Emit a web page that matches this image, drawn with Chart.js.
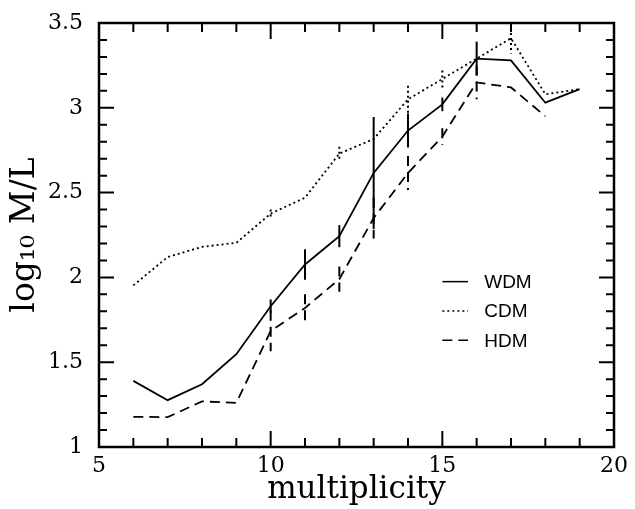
<!DOCTYPE html>
<html>
<head>
<meta charset="utf-8">
<script src="https://cdn.jsdelivr.net/npm/chart.js@4/dist/chart.umd.min.js"></script>
<style>
  html, body { margin: 0; padding: 0; background: #fff; }
  #wrap { width: 635px; height: 509px; }
</style>
</head>
<body>
<div id="wrap"><canvas id="ml_chart" width="635" height="509"></canvas></div>
<script>
// multiplicity values along x
const multiplicity = [6, 7, 8, 9, 10, 11, 12, 13, 14, 15, 16, 17, 18, 19];

// log10 M/L for each model
const wdm = [1.39, 1.276, 1.37, 1.547, 1.83, 2.076, 2.243, 2.616, 2.866, 3.02, 3.29, 3.28, 3.03, 3.11];
const cdm = [1.953, 2.12, 2.18, 2.204, 2.376, 2.47, 2.73, 2.816, 3.05, 3.17, 3.29, 3.41, 3.08, 3.11];
const hdm = [1.178, 1.176, 1.269, 1.26, 1.684, 1.82, 1.99, 2.35, 2.616, 2.83, 3.15, 3.12, 2.95, null];

// half-length of error bars (0 = none)
const wdmErr = [0, 0, 0, 0, 0.04, 0.09, 0.065, 0.33, 0.1, 0.04, 0.1, 0, 0, 0];
const cdmErr = [0, 0, 0, 0, 0.025, 0, 0.04, 0, 0.08, 0.05, 0, 0.09, 0, 0];
const hdmErr = [0, 0, 0, 0, 0.12, 0.08, 0.075, 0.12, 0.1, 0.05, 0.1, 0, 0, 0];

const xTicks = [5, 10, 15, 20];
const yTicks = [1, 1.5, 2, 2.5, 3, 3.5];

function pts(vals) {
    return multiplicity.map((m, i) => ({x: m, y: vals[i]})).filter(p => p.y !== null);
}

const isMajor = (v, step) => Math.abs(v / step - Math.round(v / step)) < 1e-6;

const frameAndTicks = {
    id: 'frameAndTicks',
    afterDraw(chart) {
        const {ctx, chartArea: {left, top, right, bottom}, scales: {x, y}} = chart;
        ctx.save();
        ctx.strokeStyle = '#000';
        ctx.lineWidth = 2;
        ctx.beginPath();
        for (let v = 6; v < 20; v++) {
            const px = x.getPixelForValue(v);
            const len = isMajor(v, 5) ? 16 : 9;
            ctx.moveTo(px, bottom); ctx.lineTo(px, bottom - len);
            ctx.moveTo(px, top); ctx.lineTo(px, top + len);
        }
        for (let k = 11; k < 35; k++) {
            const v = k / 10;
            const py = y.getPixelForValue(v);
            const len = isMajor(v, 0.5) ? 15 : 8;
            ctx.moveTo(left, py); ctx.lineTo(left + len, py);
            ctx.moveTo(right, py); ctx.lineTo(right - len, py);
        }
        ctx.stroke();
        ctx.lineWidth = 2.5;
        ctx.strokeRect(left, top, right - left, bottom - top);
        ctx.restore();
    }
};

const errorBars = {
    id: 'errorBars',
    afterDatasetsDraw(chart) {
        const {ctx, scales: {x, y}} = chart;
        ctx.save();
        chart.data.datasets.forEach(ds => {
            ctx.strokeStyle = '#000';
            ctx.lineWidth = 2;
            ctx.setLineDash(ds.borderDash || []);
            ds.err.forEach((e, i) => {
                const v = ds.vals[i];
                if (!e || v === null) return;
                const px = x.getPixelForValue(multiplicity[i]);
                ctx.beginPath();
                ctx.moveTo(px, y.getPixelForValue(v + e));
                ctx.lineTo(px, y.getPixelForValue(v - e));
                ctx.stroke();
            });
        });
        ctx.restore();
    }
};

const innerLegend = {
    id: 'innerLegend',
    afterDraw(chart) {
        const {ctx, scales: {x, y}} = chart;
        ctx.save();
        ctx.font = '19px "Liberation Sans", Arial, sans-serif';
        ctx.fillStyle = '#000';
        ctx.textBaseline = 'middle';
        const x0 = x.getPixelForValue(15.0), x1 = x.getPixelForValue(15.75), xt = x.getPixelForValue(16.22);
        chart.data.datasets.forEach((ds, i) => {
            const py = y.getPixelForValue(1.975 - i * 0.173);
            ctx.strokeStyle = '#000';
            ctx.lineWidth = 1.5;
            ctx.setLineDash(ds.borderDash || []);
            ctx.beginPath();
            ctx.moveTo(x0, py); ctx.lineTo(x1, py);
            ctx.stroke();
            ctx.fillText(ds.label, xt, py + 1);
        });
        ctx.restore();
    }
};

new Chart(document.getElementById('ml_chart'), {
    type: 'scatter',
    data: {
        datasets: [
            {label: 'WDM', data: pts(wdm), vals: wdm, err: wdmErr, showLine: true,
             borderColor: '#000', borderWidth: 1.8, pointRadius: 0, borderDash: []},
            {label: 'CDM', data: pts(cdm), vals: cdm, err: cdmErr, showLine: true,
             borderColor: '#000', borderWidth: 1.8, pointRadius: 0, borderDash: [2, 3]},
            {label: 'HDM', data: pts(hdm), vals: hdm, err: hdmErr, showLine: true,
             borderColor: '#000', borderWidth: 1.8, pointRadius: 0, borderDash: [10, 6]}
        ]
    },
    options: {
        responsive: false,
        animation: false,
        layout: {padding: {top: 23, right: 21, left: 0, bottom: 0}},
        plugins: {legend: {display: false}, tooltip: {enabled: false}},
        scales: {
            x: {
                type: 'linear', min: 5, max: 20,
                afterFit: s => { s.height = 62; s.paddingLeft = 0; s.paddingRight = 0; },
                grid: {display: false, drawTicks: false},
                border: {display: false},
                ticks: {
                    stepSize: 1, autoSkip: false, maxRotation: 0, padding: 6, color: '#000',
                    font: {family: '"DejaVu Serif", serif', size: 22},
                    callback: v => xTicks.includes(v) ? String(v) : ''
                },
                title: {display: true, text: 'multiplicity', color: '#000', padding: 0,
                        font: {family: '"DejaVu Serif", serif', size: 31}}
            },
            y: {
                type: 'linear', min: 1, max: 3.5,
                afterFit: s => { s.width = 99; s.paddingTop = 0; s.paddingBottom = 0; },
                grid: {display: false, drawTicks: false},
                border: {display: false},
                ticks: {
                    stepSize: 0.1, autoSkip: false, padding: 16, color: '#000',
                    font: {family: '"DejaVu Serif", serif', size: 22},
                    callback: v => {
                        const t = yTicks.find(t => Math.abs(t - v) < 1e-6);
                        return t === undefined ? '' : String(t);
                    }
                },
                title: {display: true, text: 'log₁₀ M/L', color: '#000', padding: {top: 6, bottom: 0},
                        font: {family: '"DejaVu Serif", serif', size: 33}}
            }
        }
    },
    plugins: [errorBars, frameAndTicks, innerLegend]
});
</script>
</body>
</html>
